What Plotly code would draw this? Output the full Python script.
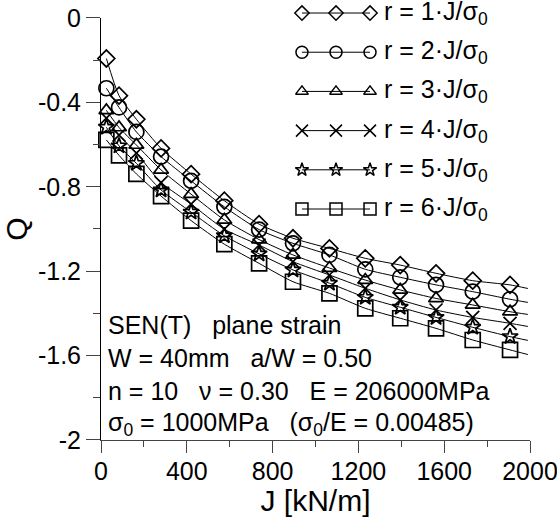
import plotly.graph_objects as go

# J [kN/m] - last point has no marker, line only
J = [25, 84, 165, 280, 420, 575, 737, 895, 1065, 1232, 1395, 1562, 1733, 1907, 1990]

Q_r1 = [-0.192, -0.368, -0.480, -0.618, -0.740, -0.866, -0.977, -1.044, -1.092, -1.139, -1.171, -1.210, -1.245, -1.265, -1.282]
Q_r2 = [-0.333, -0.424, -0.540, -0.657, -0.772, -0.895, -1.003, -1.068, -1.123, -1.191, -1.229, -1.265, -1.297, -1.333, -1.348]
Q_r3 = [-0.438, -0.519, -0.602, -0.720, -0.835, -0.957, -1.050, -1.123, -1.185, -1.242, -1.289, -1.329, -1.360, -1.392, -1.405]
Q_r4 = [-0.475, -0.555, -0.640, -0.780, -0.882, -1.001, -1.076, -1.155, -1.218, -1.281, -1.336, -1.384, -1.419, -1.447, -1.462]
Q_r5 = [-0.518, -0.606, -0.689, -0.815, -0.920, -1.032, -1.118, -1.194, -1.257, -1.324, -1.371, -1.419, -1.466, -1.510, -1.528]
Q_r6 = [-0.578, -0.651, -0.739, -0.844, -0.960, -1.072, -1.163, -1.250, -1.305, -1.376, -1.423, -1.471, -1.526, -1.573, -1.595]

series = [Q_r1, Q_r2, Q_r3, Q_r4, Q_r5, Q_r6]
labels = ["r = %d·J/σ<sub>0</sub>" % k for k in range(1, 7)]
symbols = ["diamond-open", "circle-open", "triangle-up-open", "x-thin-open", "star-open", "square-open"]
sizes = [13, 15, 13, 13, 12, 15]
leg_sizes = [11, 12, 11, 12, 10, 12]

info_lines = [
    "SEN(T)\u00a0\u00a0\u00a0plane strain",
    "W = 40mm\u00a0\u00a0\u00a0a/W = 0.50",
    "n = 10\u00a0\u00a0\u00a0ν = 0.30\u00a0\u00a0\u00a0E = 206000MPa",
    "σ<sub>0</sub> = 1000MPa\u00a0\u00a0\u00a0(σ<sub>0</sub>/E = 0.00485)",
]

FONT = "Liberation Sans, Arial, sans-serif"
BLACK = "#000000"
TXT = 25

fig = go.Figure()

for i, q in enumerate(series):
    fig.add_trace(go.Scatter(x=J, y=q, mode="lines", line=dict(color=BLACK, width=1, shape="spline", smoothing=0.6),
                             showlegend=False, hoverinfo="skip"))
    fig.add_trace(go.Scatter(x=J[:-1], y=q[:-1], mode="markers", name=labels[i], showlegend=False,
                             marker=dict(symbol=symbols[i], size=sizes[i], color=BLACK,
                                         line=dict(color=BLACK, width=1.7)),
                             cliponaxis=False))

# hand-made legend: 3 markers joined by a line, on a helper axis
for i in range(len(series)):
    fig.add_trace(go.Scatter(x=[0, 1, 2], y=[-i] * 3, mode="lines+markers", xaxis="x2", yaxis="y2",
                             showlegend=False, hoverinfo="skip", cliponaxis=False,
                             line=dict(color=BLACK, width=1),
                             marker=dict(symbol=symbols[i], size=leg_sizes[i], color=BLACK,
                                         line=dict(color=BLACK, width=1.5))))

# legend rows sit at paper y = 0.9884 - i*0.0907
for i, lab in enumerate(labels):
    fig.add_annotation(x=0.655, y=0.9884 - i * 0.0907, xref="paper", yref="paper", text=lab,
                       showarrow=False, xanchor="left", yanchor="middle",
                       font=dict(family=FONT, size=TXT, color=BLACK))

for i, t in enumerate(info_lines):
    fig.add_annotation(x=0.012, y=(440 - 325 - i * 33) / 432, xref="paper", yref="paper", text=t,
                       showarrow=False, xanchor="left", yanchor="middle",
                       font=dict(family=FONT, size=TXT, color=BLACK))

fig.update_layout(
    width=557, height=517,
    margin=dict(l=101, r=27, t=8, b=77),
    paper_bgcolor="white", plot_bgcolor="white",
    font=dict(family=FONT, size=TXT, color=BLACK),
    xaxis=dict(range=[0, 2000], tickvals=[0, 400, 800, 1200, 1600, 2000], showgrid=False, zeroline=False,
               showline=True, linecolor="#444444", linewidth=1, ticks="outside", ticklen=12, tickcolor="#444444",
               minor=dict(dtick=200, ticks="outside", ticklen=6, tickcolor="#444444"),
               ticklabelstandoff=-3, ticklabeloverflow="allow",
               title=dict(text="J [kN/m]", standoff=8), domain=[0, 1], automargin=False),
    yaxis=dict(range=[-2, 0], tickvals=[0, -0.4, -0.8, -1.2, -1.6, -2], ticktext=["0", "-0.4", "-0.8", "-1.2", "-1.6", "-2"],
               showgrid=False, zeroline=False, showline=True, linecolor=BLACK, linewidth=1,
               ticks="outside", ticklen=14, tickcolor="#444444", ticklabeloverflow="allow",
               minor=dict(dtick=0.2, ticks="outside", ticklen=7, tickcolor="#444444"),
               title=dict(text="Q", standoff=17), domain=[0, 0.9769], automargin=False),
    xaxis2=dict(domain=[0.44, 0.66], range=[-0.359, 2.415], visible=False, anchor="y2"),
    yaxis2=dict(domain=[0.52, 1.0], range=[-5.162, 0.128], visible=False, anchor="x2"),
)

# drop the page's default 8px body margin so the figure sits at the window corner
fig.write_html("out.html", config={"displayModeBar": False},
               post_script="document.body.style.margin = '0';")
